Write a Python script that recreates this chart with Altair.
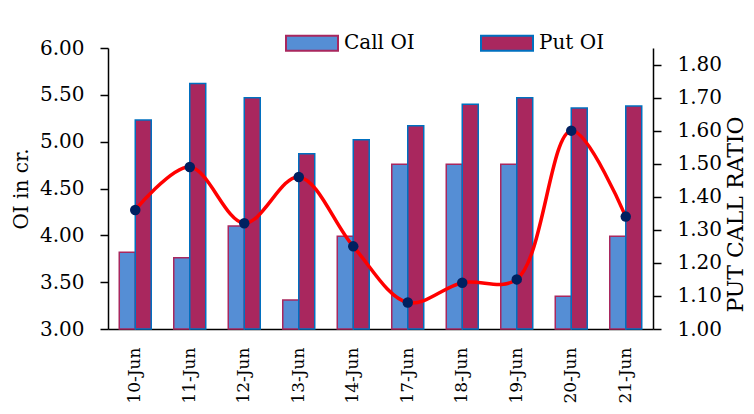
import altair as alt
import pandas as pd

dates = ["10-Jun", "11-Jun", "12-Jun", "13-Jun", "14-Jun", "17-Jun", "18-Jun", "19-Jun", "20-Jun", "21-Jun"]
call_oi = [3.82, 3.76, 4.10, 3.31, 3.99, 4.76, 4.76, 4.76, 3.35, 3.99]
put_oi = [5.23, 5.62, 5.47, 4.87, 5.02, 5.17, 5.40, 5.47, 5.36, 5.38]
pcr = [1.36, 1.49, 1.32, 1.46, 1.25, 1.08, 1.14, 1.15, 1.60, 1.34]
series = ["Call OI", "Put OI"]

FONT = "DejaVu Serif"
FS = 20

bars_df = pd.DataFrame(
    [{"date": d, "series": "Call OI", "oi": v} for d, v in zip(dates, call_oi)]
    + [{"date": d, "series": "Put OI", "oi": v} for d, v in zip(dates, put_oi)]
)
pcr_df = pd.DataFrame({"date": dates, "pcr": pcr})

x_enc = alt.X(
    "date:N",
    sort=dates,
    title=None,
    scale=alt.Scale(paddingInner=0.413, paddingOuter=0.2065),
    axis=alt.Axis(
        labelAngle=270, labelFontSize=17, labelFont=FONT, labelColor="black",
        ticks=False, domainColor="black", domainWidth=1.5, labelPadding=18,
        labelAlign="right", labelBaseline="middle",
    ),
)

legend_shape = "M-1,-0.29 L1,-0.29 L1,0.29 L-1,0.29 Z"
legend_kw = dict(
    orient="none", legendX=177, legendY=-32, direction="horizontal",
    symbolType=legend_shape, symbolSize=2704, symbolStrokeWidth=2,
    labelFont=FONT, labelFontSize=FS, labelColor="black", labelOffset=5,
    columnPadding=62,
)

bars = alt.Chart(bars_df).mark_bar(strokeWidth=1.5).encode(
    x=x_enc,
    xOffset=alt.XOffset("series:N", sort=series, scale=alt.Scale(paddingInner=0, paddingOuter=0)),
    y=alt.Y(
        "oi:Q",
        title="OI in cr.",
        scale=alt.Scale(domain=[3, 6], zero=False, nice=False),
        axis=alt.Axis(
            values=[3, 3.5, 4, 4.5, 5, 5.5, 6], format=".2f", grid=False,
            labelFontSize=FS, labelFont=FONT, labelColor="black", labelPadding=16,
            tickSize=8, tickColor="black", tickWidth=1.5, domainColor="black", domainWidth=1.5,
            titleFont=FONT, titleFontSize=FS, titleFontWeight="normal", titleColor="black",
            titlePadding=8,
        ),
    ),
    y2=alt.Y2Datum(3),
    fill=alt.Fill(
        "series:N", sort=series, title=None,
        scale=alt.Scale(domain=series, range=["#558ED5", "#A9275E"]),
        legend=alt.Legend(**legend_kw),
    ),
    stroke=alt.Stroke(
        "series:N", sort=series, title=None,
        scale=alt.Scale(domain=series, range=["#A9275E", "#0070C0"]),
        legend=alt.Legend(**legend_kw),
    ),
)

y_right = alt.Y(
    "pcr:Q",
    title="PUT CALL RATIO",
    scale=alt.Scale(domain=[1.0, 1.85], zero=False, nice=False),
    axis=alt.Axis(
        orient="right", values=[1.0, 1.1, 1.2, 1.3, 1.4, 1.5, 1.6, 1.7, 1.8], format=".2f",
        grid=False, labelFontSize=FS, labelFont=FONT, labelColor="black", labelPadding=16,
        tickSize=8, tickColor="black", tickWidth=1.5, domainColor="black", domainWidth=1.5,
        titleFont=FONT, titleFontSize=22, titleFontWeight="normal", titleColor="black",
        titleAngle=270, titleX=89, titleY=166, titleBaseline="alphabetic", titleAlign="center",
    ),
)

line = alt.Chart(pcr_df).mark_line(color="#FF0000", strokeWidth=3.5, interpolate="catmull-rom").encode(
    x=alt.X("date:N", sort=dates),
    y=y_right,
)
dots = alt.Chart(pcr_df).mark_circle(color="#002060", opacity=1, size=110).encode(
    x=alt.X("date:N", sort=dates),
    y=y_right,
)

right = alt.layer(line, dots)

chart = alt.layer(bars, right).resolve_scale(y="independent").properties(
    width=545,
    height=281,
    autosize=alt.AutoSizeParams(type="none"),
    padding={"left": 100, "top": 40, "right": 93, "bottom": 76},
    background="white",
).configure_view(stroke=None)

chart.save("out.html", embed_options={"renderer": "svg", "actions": False})
